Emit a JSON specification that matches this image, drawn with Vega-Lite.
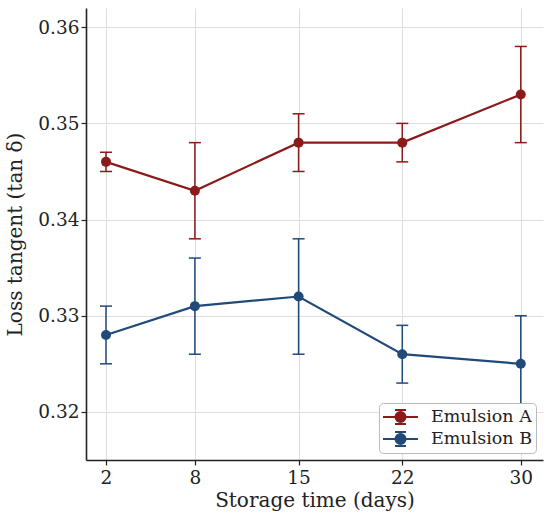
{
  "$schema": "https://vega.github.io/schema/vega-lite/v6.json",
  "width": 457,
  "height": 452,
  "autosize": {"type": "none"},
  "padding": {"left": 86, "top": 8, "right": 7, "bottom": 58},
  "background": "white",
  "config": {
    "font": "DejaVu Serif",
    "view": {"stroke": null},
    "axis": {
      "domainColor": "#222222",
      "domainWidth": 1.6,
      "tickColor": "#222222",
      "tickWidth": 1.2,
      "tickSize": 5,
      "gridColor": "#dddddd",
      "gridWidth": 1,
      "labelFont": "DejaVu Serif",
      "labelFontSize": 18.5,
      "labelColor": "#222222",
      "titleFont": "DejaVu Serif",
      "titleFontSize": 20,
      "titleFontWeight": "normal",
      "titleColor": "#222222"
    }
  },
  "data": {
    "values": [
      {"series": "Emulsion A", "day": 2, "mean": 0.346, "lo": 0.345, "hi": 0.347},
      {"series": "Emulsion A", "day": 8, "mean": 0.343, "lo": 0.338, "hi": 0.348},
      {"series": "Emulsion A", "day": 15, "mean": 0.348, "lo": 0.345, "hi": 0.351},
      {"series": "Emulsion A", "day": 22, "mean": 0.348, "lo": 0.346, "hi": 0.350},
      {"series": "Emulsion A", "day": 30, "mean": 0.353, "lo": 0.348, "hi": 0.358},
      {"series": "Emulsion B", "day": 2, "mean": 0.328, "lo": 0.325, "hi": 0.331},
      {"series": "Emulsion B", "day": 8, "mean": 0.331, "lo": 0.326, "hi": 0.336},
      {"series": "Emulsion B", "day": 15, "mean": 0.332, "lo": 0.326, "hi": 0.338},
      {"series": "Emulsion B", "day": 22, "mean": 0.326, "lo": 0.323, "hi": 0.329},
      {"series": "Emulsion B", "day": 30, "mean": 0.325, "lo": 0.320, "hi": 0.330}
    ]
  },
  "encoding": {
    "x": {
      "field": "day",
      "type": "quantitative",
      "scale": {"domain": [0.65, 31.5], "nice": false, "zero": false},
      "axis": {"values": [2, 8, 15, 22, 30], "title": "Storage time (days)", "labelPadding": 3, "titlePadding": 4}
    },
    "color": {
      "field": "series",
      "type": "nominal",
      "scale": {"domain": ["Emulsion A", "Emulsion B"], "range": ["#8b1a1a", "#1f4a7a"]},
      "legend": {
        "title": null,
        "orient": "bottom-right",
        "offset": 7,
        "padding": 3,
        "fillColor": "white",
        "strokeColor": "#bbbbbb",
        "cornerRadius": 4,
        "symbolType": "M-1,0H2.5M0.75,-0.7V0.7M0.2,-0.7H1.3M0.2,0.7H1.3M1.25,0A0.5,0.5,0,1,1,0.25,0A0.5,0.5,0,1,1,1.25,0Z",
        "symbolSize": 400,
        "symbolStrokeWidth": 2,
        "labelFont": "DejaVu Serif",
        "labelFontSize": 17.5,
        "labelColor": "#222222",
        "labelOffset": 27,
        "rowPadding": 0,
        "encode": {
          "symbols": {
            "update": {
              "fill": {"scale": "color", "field": "value"},
              "stroke": {"scale": "color", "field": "value"},
              "opacity": {"value": 1}
            }
          }
        }
      }
    }
  },
  "layer": [
    {
      "mark": {"type": "rule", "strokeWidth": 1.5},
      "encoding": {
        "y": {"field": "lo", "type": "quantitative", "title": "Loss tangent (tan δ)", "scale": {"domain": [0.315, 0.362], "nice": false, "zero": false}, "axis": {"values": [0.32, 0.33, 0.34, 0.35, 0.36], "format": ".2f", "titlePadding": 12}},
        "y2": {"field": "hi"}
      }
    },
    {
      "mark": {"type": "point", "shape": "M-1,0H1", "size": 144, "filled": false, "strokeWidth": 1.5, "opacity": 1},
      "encoding": {
        "y": {"field": "lo", "type": "quantitative", "title": "Loss tangent (tan δ)", "scale": {"domain": [0.315, 0.362], "nice": false, "zero": false}, "axis": {"values": [0.32, 0.33, 0.34, 0.35, 0.36], "format": ".2f", "titlePadding": 12}}
      }
    },
    {
      "mark": {"type": "point", "shape": "M-1,0H1", "size": 144, "filled": false, "strokeWidth": 1.5, "opacity": 1},
      "encoding": {
        "y": {"field": "hi", "type": "quantitative", "title": "Loss tangent (tan δ)", "scale": {"domain": [0.315, 0.362], "nice": false, "zero": false}, "axis": {"values": [0.32, 0.33, 0.34, 0.35, 0.36], "format": ".2f", "titlePadding": 12}}
      }
    },
    {
      "mark": {"type": "line", "strokeWidth": 2.2},
      "encoding": {
        "y": {"field": "mean", "type": "quantitative", "title": "Loss tangent (tan δ)", "scale": {"domain": [0.315, 0.362], "nice": false, "zero": false}, "axis": {"values": [0.32, 0.33, 0.34, 0.35, 0.36], "format": ".2f", "titlePadding": 12}}
      }
    },
    {
      "mark": {"type": "point", "filled": true, "size": 100, "opacity": 1},
      "encoding": {
        "y": {"field": "mean", "type": "quantitative", "title": "Loss tangent (tan δ)", "scale": {"domain": [0.315, 0.362], "nice": false, "zero": false}, "axis": {"values": [0.32, 0.33, 0.34, 0.35, 0.36], "format": ".2f", "titlePadding": 12}}
      }
    }
  ]
}
